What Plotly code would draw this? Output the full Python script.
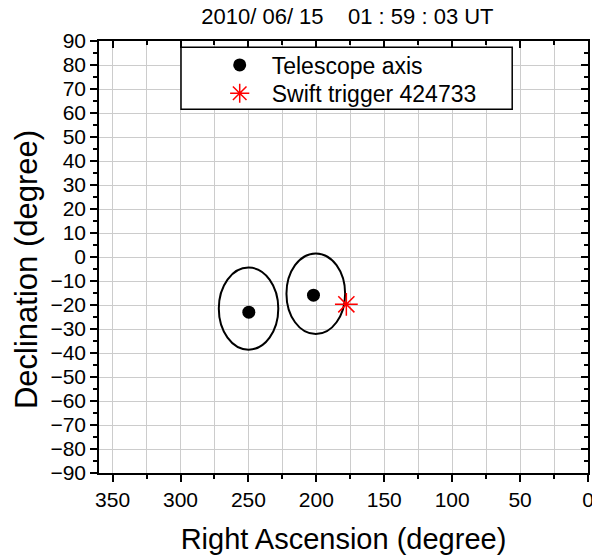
import plotly.graph_objects as go

# Telescope pointing directions (RA, Dec in degrees)
axis_ra = [249.7, 202.1]
axis_dec = [-23.0, -15.9]

# Swift trigger position
swift_ra = [177.9]
swift_dec = [-19.7]

# Field-of-view ellipses around each pointing
fov_ra_center = [249.9, 200.4]
fov_dec_center = [-21.5, -15.3]
fov_ra_half = [21.9, 21.6]
fov_dec_half = [17.1, 16.8]

title_text = "2010/ 06/ 15\u00a0\u00a0\u00a0\u00a001 : 59 : 03 UT"
font_family = "Liberation Sans, Arial, Helvetica, sans-serif"
grid_color = "#cccccc"

fig = go.Figure()

fig.add_trace(go.Scatter(
    x=axis_ra, y=axis_dec, mode="markers", name="Telescope axis",
    marker=dict(symbol="circle", size=13, color="black"),
    legend="legend",
))
fig.add_trace(go.Scatter(
    x=swift_ra, y=swift_dec, mode="markers", name="Swift trigger 424733",
    marker=dict(symbol="asterisk-open", size=19, color="red",
                line=dict(color="red", width=1.5)),
    legend="legend2",
))
# empty trace so the mirrored top/right axes are drawn
fig.add_trace(go.Scatter(x=[None], y=[None], xaxis="x2", yaxis="y2",
                         showlegend=False, hoverinfo="skip"))

shapes = []
for cx, cy, a, b in zip(fov_ra_center, fov_dec_center, fov_ra_half, fov_dec_half):
    shapes.append(dict(type="circle", xref="x", yref="y",
                       x0=cx - a, x1=cx + a, y0=cy - b, y1=cy + b,
                       line=dict(color="black", width=2), layer="between"))

# legend frame
shapes.append(dict(type="rect", xref="paper", yref="paper",
                   x0=0.1677, x1=0.845, y0=0.8419, y1=0.9854,
                   fillcolor="white", line=dict(color="black", width=1.5),
                   layer="above"))

axis_common = dict(showline=True, linecolor="black", linewidth=1.5,
                   tickcolor="black", tickwidth=1.5, zeroline=False,
                   automargin=False)

legend_common = dict(xanchor="left", yanchor="middle", bgcolor="rgba(0,0,0,0)",
                     borderwidth=0, itemwidth=54,
                     font=dict(family=font_family, size=23, color="black"))

fig.update_layout(
    width=592, height=557,
    margin=dict(l=99, r=4, t=41, b=84, autoexpand=False),
    paper_bgcolor="white", plot_bgcolor="white",
    font=dict(family=font_family, color="black"),
    title=dict(text=title_text, x=0.508, xref="paper", xanchor="center",
               y=0.970, yref="container", yanchor="middle",
               font=dict(family=font_family, size=22, color="black")),
    xaxis=dict(range=[360, 0], tickmode="linear", tick0=0, dtick=50,
               ticks="outside", ticklen=7, showgrid=True, gridcolor=grid_color,
               gridwidth=1, tickfont=dict(size=21), ticklabeloverflow="allow",
               minor=dict(tick0=0, dtick=25, ticks="outside", ticklen=4,
                          tickcolor="black", tickwidth=1.5,
                          showgrid=True, gridcolor=grid_color, gridwidth=1),
               title=dict(text="Right Ascension (degree)", font=dict(size=29),
                          standoff=19),
               **axis_common),
    yaxis=dict(range=[-90, 90], tickmode="linear", tick0=0, dtick=10,
               ticks="outside", ticklen=7, showgrid=True, gridcolor=grid_color,
               gridwidth=1, tickfont=dict(size=21),
               minor=dict(tick0=0, dtick=5, ticks="outside", ticklen=4,
                          tickcolor="black", tickwidth=1.5, showgrid=False),
               **axis_common),
    xaxis2=dict(range=[360, 0], overlaying="x", side="top", anchor="y2",
                tickmode="linear", tick0=0, dtick=50, ticks="inside", ticklen=7,
                showticklabels=False, showgrid=False,
                minor=dict(tick0=0, dtick=25, ticks="inside", ticklen=4,
                           tickcolor="black", tickwidth=1.5),
                **axis_common),
    yaxis2=dict(range=[-90, 90], overlaying="y", side="right", anchor="x2",
                tickmode="linear", tick0=0, dtick=10, ticks="inside", ticklen=7,
                showticklabels=False, showgrid=False,
                minor=dict(tick0=0, dtick=5, ticks="inside", ticklen=4,
                           tickcolor="black", tickwidth=1.5),
                **axis_common),
    legend=dict(x=0.2223, y=0.9444, **legend_common),
    legend2=dict(x=0.2223, y=0.8789, **legend_common),
    shapes=shapes,
    annotations=[dict(text="Declination (degree)", textangle=-90,
                      xref="paper", x=-0.147, xanchor="center",
                      yref="paper", y=0.47, yanchor="middle", showarrow=False,
                      font=dict(family=font_family, size=31, color="black"))],
)

fig.write_html("out.html")
